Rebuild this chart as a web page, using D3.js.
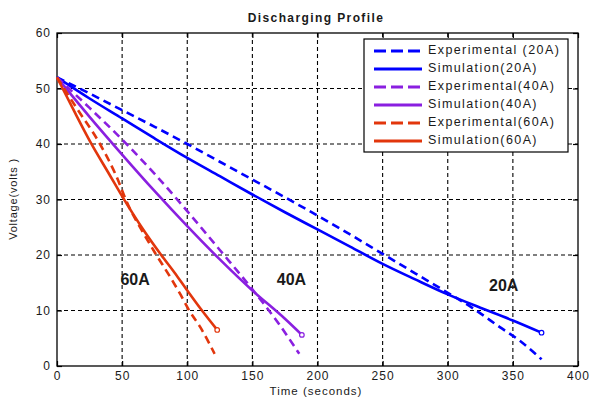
<!DOCTYPE html>
<html><head><meta charset="utf-8">
<script src="https://cdn.jsdelivr.net/npm/d3@7"></script>
<style>
body{margin:0;background:#fff;}
text{font-family:"Liberation Sans",Arial,sans-serif;fill:#1a1a1a;}
</style></head>
<body><svg id="c" width="592" height="398"></svg>
<script>
const xTicks = [0,50,100,150,200,250,300,350,400];
const yTicks = [0,10,20,30,40,50,60];

const sim20T = [0,25,50,75,100,125,150,175,200,225,250,275,300,325,350,372];
const sim20V = [52,48.2,44.6,41,37.5,34.2,30.9,27.7,24.6,21.5,18.4,15.6,12.9,10.5,8.2,6];
const exp20T = [0,25,50,75,100,125,150,175,200,225,250,275,300,320,340,355,372];
const exp20V = [52,49.1,46.1,43.1,40,36.8,33.6,30.4,27.1,23.7,20.2,16.7,13.2,10.3,7,4.6,1.2];

const sim40T = [0,25,50,75,100,125,150,175,188];
const sim40V = [52,44.9,38.1,31.5,25.2,19.2,13.6,8.5,5.6];
const exp40T = [0,25,50,75,100,125,150,170,186];
const exp40V = [52,46.5,40.8,34.6,27.9,20.9,13.8,7.7,2.2];

const sim60T = [0,13,26,40,51,65,80,90,100,110,123];
const sim60V = [52,46,40.2,34.6,30.2,25,20,16.9,13.6,10.4,6.5];
const exp60T = [0,15,33,45,55,65,75,87,95,101,110,121];
const exp60V = [52,46.5,40,34.5,28.8,24.5,20.5,16,12.8,10.2,7,2.2];

const seriesNames = ["Experimental (20A)","Simulation(20A)","Experimental(40A)","Simulation(40A)","Experimental(60A)","Simulation(60A)"];
const seriesColors = ["#0000ff","#0000ff","#8a1fe0","#8a1fe0","#e2360c","#e2360c"];
const currentLabels = ["60A","40A","20A"];
const currentLabelPos = [[60,15.3],[180,15.3],[343,14.3]];

const svg = d3.select("#c");
const L=57, R=578, T=33, B=366;
const x = d3.scaleLinear().domain([0,400]).range([L,R]);
const y = d3.scaleLinear().domain([0,60]).range([B,T]);

// title
svg.append("text").attr("x",316).attr("y",22).attr("text-anchor","middle")
  .attr("font-size",12).attr("font-weight","bold").attr("letter-spacing",1.4).text("Discharging Profile");

// grid
const g = svg.append("g");
g.selectAll(".vg").data(xTicks.slice(1,-1)).enter().append("line")
  .attr("x1",d=>x(d)).attr("x2",d=>x(d)).attr("y1",T).attr("y2",B)
  .attr("stroke","#000").attr("stroke-width",1.1).attr("stroke-dasharray","4,3");
g.selectAll(".hg").data(yTicks.slice(1,-1)).enter().append("line")
  .attr("y1",d=>y(d)).attr("y2",d=>y(d)).attr("x1",L).attr("x2",R)
  .attr("stroke","#000").attr("stroke-width",1.1).attr("stroke-dasharray","4,3");

// axes
const xa = svg.append("g").attr("transform",`translate(0,${B})`)
  .call(d3.axisBottom(x).tickValues(xTicks).tickSize(-5).tickPadding(5).tickFormat(d3.format("d")));
const xt = svg.append("g").attr("transform",`translate(0,${T})`)
  .call(d3.axisTop(x).tickValues(xTicks).tickSize(-5).tickFormat(""));
const ya = svg.append("g").attr("transform",`translate(${L},0)`)
  .call(d3.axisLeft(y).tickValues(yTicks).tickSize(-5).tickPadding(6).tickFormat(d3.format("d")));
const yr = svg.append("g").attr("transform",`translate(${R},0)`)
  .call(d3.axisRight(y).tickValues(yTicks).tickSize(-5).tickFormat(""));
[xa,xt,ya,yr].forEach(a=>{
  a.select(".domain").remove();
  a.selectAll("line").attr("stroke","#000").attr("stroke-width",1.2);
  a.selectAll("text").attr("font-size",12).attr("letter-spacing",1).attr("fill","#1a1a1a")
   .style("font-family","Liberation Sans, Arial, sans-serif");
});
svg.append("rect").attr("x",L).attr("y",T).attr("width",R-L).attr("height",B-T)
  .attr("fill","none").attr("stroke","#000").attr("stroke-width",1.3);

// axis labels
svg.append("text").attr("x",316).attr("y",395).attr("text-anchor","middle")
  .attr("font-size",11.5).attr("letter-spacing",1).text("Time (seconds)");
svg.append("text").attr("transform","translate(17,199) rotate(-90)").attr("text-anchor","middle")
  .attr("font-size",11).attr("letter-spacing",0.8).text("Voltage(volts )");

// lines
const data = [
  [exp20T,exp20V],[sim20T,sim20V],[exp40T,exp40V],[sim40T,sim40V],[exp60T,exp60V],[sim60T,sim60V]
];
const line = d3.line().x(d=>x(d[0])).y(d=>y(d[1])).curve(d3.curveMonotoneX);
const plot = svg.append("g");
data.forEach((s,i)=>{
  const pts = s[0].map((t,j)=>[t,s[1][j]]);
  const dashed = i%2===0;
  plot.append("path").attr("d",line(pts)).attr("fill","none")
    .attr("stroke",seriesColors[i]).attr("stroke-width",2.6)
    .attr("stroke-dasharray",dashed?"8,5":null);
  if(!dashed){
    const e = pts[pts.length-1];
    plot.append("circle").attr("cx",x(e[0])).attr("cy",y(e[1])).attr("r",2.3)
      .attr("fill","#fff").attr("stroke",seriesColors[i]).attr("stroke-width",1.2);
  }
});

// current labels
currentLabels.forEach((l,i)=>{
  svg.append("text").attr("x",x(currentLabelPos[i][0])).attr("y",y(currentLabelPos[i][1]))
    .attr("text-anchor","middle").attr("dominant-baseline","middle")
    .attr("font-size",16).attr("font-weight","bold").attr("fill","#111").text(l);
});

// legend
const lg = svg.append("g");
lg.append("rect").attr("x",364).attr("y",39).attr("width",204).attr("height",113)
  .attr("fill","#fff").attr("stroke","#000").attr("stroke-width",1.2);
seriesNames.forEach((n,i)=>{
  const yy = 51 + i*18;
  lg.append("line").attr("x1",374).attr("x2",422).attr("y1",yy).attr("y2",yy)
    .attr("stroke",seriesColors[i]).attr("stroke-width",3)
    .attr("stroke-dasharray",i%2===0?"12,5":null);
  lg.append("text").attr("x",428).attr("y",yy).attr("dominant-baseline","middle")
    .attr("font-size",12.5).attr("letter-spacing",1.4).text(n);
});
</script></body></html>
